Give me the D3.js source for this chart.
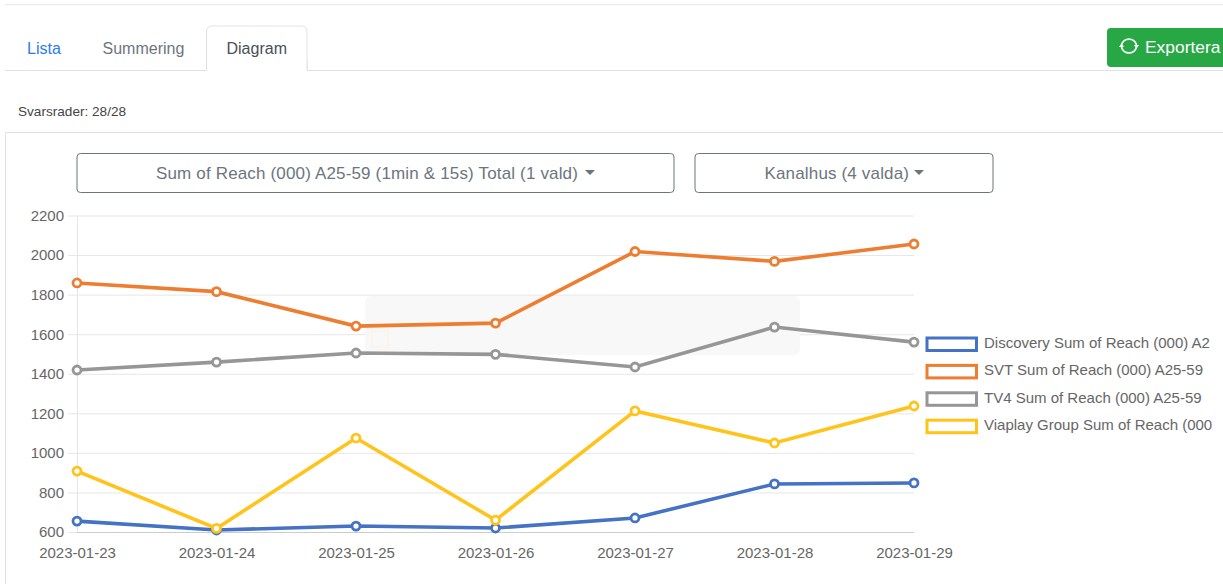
<!DOCTYPE html>
<html><head><meta charset="utf-8">
<script src="https://cdn.jsdelivr.net/npm/d3@7/dist/d3.min.js"></script>
<style>
html,body{margin:0;padding:0;background:#fff;overflow:hidden}
svg{display:block}
text{font-family:"Liberation Sans",Arial,sans-serif}
</style></head><body><svg id="c" width="1223" height="584"></svg>
<script>
const dates=["2023-01-23","2023-01-24","2023-01-25","2023-01-26","2023-01-27","2023-01-28","2023-01-29"];
const yTicks=[600,800,1000,1200,1400,1600,1800,2000,2200];
const discovery=[655,610,630,620,671,843,848];
const svt=[1859,1815,1641,1656,2018,1968,2056];
const tv4=[1419,1459,1505,1498,1434,1636,1560];
const viaplay=[908,618,1075,660,1212,1050,1237];
const seriesNames=["Discovery Sum of Reach (000) A2","SVT Sum of Reach (000) A25-59","TV4 Sum of Reach (000) A25-59","Viaplay Group Sum of Reach (000"];
const seriesValues=[discovery,svt,tv4,viaplay];
const lineColors=["#4472c4","#ed7d31","#969696","#ffc31a"];

const svg=d3.select("#c");
const ui="#dee2e6";
const rect=(x,y,w,h,o)=>{const r=svg.append("rect").attr("x",x).attr("y",y).attr("width",w).attr("height",h);
  Object.entries(o).forEach(([k,v])=>r.attr(k,v));return r;};
const txt=(x,y,s,o)=>{const t=svg.append("text").attr("x",x).attr("y",y).text(s);
  Object.entries(o).forEach(([k,v])=>t.attr(k,v));return t;};

// page chrome
rect(5,4,1218,1.2,{fill:"#e9ecef"});
svg.append("path").attr("d","M5 70.5H206.5V31a5 5 0 0 1 5-5H302a5 5 0 0 1 5 5V70.5H1223").attr("fill","none").attr("stroke",ui);
rect(207,60,100,12,{fill:"#fff"});
svg.append("path").attr("d","M206.5 60V70M307 60V70").attr("stroke",ui);
txt(27,53.5,"Lista",{"font-size":16,fill:"#2a7bf6"});
txt(102.5,53.5,"Summering",{"font-size":16,fill:"#6c757d"});
txt(226.5,53.5,"Diagram",{"font-size":16,fill:"#495057"});
txt(18,116,"Svarsrader: 28/28",{"font-size":13.6,fill:"#444"});
// export button
rect(1107,28,130,39,{fill:"#28a745",rx:4});
const ic=svg.append("g").attr("transform","translate(1129,46)").attr("fill","none").attr("stroke","#fff").attr("stroke-width",1.7);
ic.append("path").attr("d","M-7.5 -1A7.7 7.7 0 0 1 7.5 -1");
ic.append("path").attr("d","M7.5 1A7.7 7.7 0 0 1 -7.5 1");
ic.append("path").attr("d","M-10 1H-5L-7.5 -2.5Z M10 -1H5L7.5 2.5Z").attr("fill","#fff").attr("stroke","none");
txt(1145,53,"Exportera",{"font-size":17.4,fill:"#fff"});
// card
svg.append("path").attr("d","M1223 132.5H5.5V584").attr("fill","none").attr("stroke",ui);
// dropdowns
rect(77,153.5,597,39,{fill:"#fff",stroke:"#6c757d",rx:3.5});
rect(695,153.5,298,39,{fill:"#fff",stroke:"#6c757d",rx:3.5});
txt(156,179,"Sum of Reach (000) A25-59 (1min & 15s) Total (1 vald)",{"font-size":17,"letter-spacing":0.16,fill:"#6c757d"});
txt(764.5,179,"Kanalhus (4 valda)",{"font-size":17,"letter-spacing":0.16,fill:"#6c757d"});
svg.append("path").attr("d","M585 170h10l-5 5zM914 170h10l-5 5z").attr("fill","#6c757d");

// chart
const x=d3.scalePoint().domain(dates).range([77,914]);
const y=d3.scaleLinear().domain([600,2200]).range([532,215.5]);
const gy=svg.append("g").attr("transform","translate(77,0)")
  .call(d3.axisLeft(y).tickValues(yTicks).tickFormat(d3.format("d")).tickSize(9).tickPadding(4));
gy.select(".domain").remove();
gy.selectAll("line").attr("stroke","#e6e6e6");
gy.selectAll("text").attr("font-size",15).attr("fill","#666").attr("font-family",'"Liberation Sans",Arial,sans-serif');
svg.append("g").selectAll("line").data(yTicks).join("line")
  .attr("x1",77).attr("x2",914).attr("y1",d=>y(d)+.5).attr("y2",d=>y(d)+.5)
  .attr("stroke",d=>d===600?"#ccc":"#e6e6e6");
svg.append("line").attr("x1",77.5).attr("x2",77.5).attr("y1",215.5).attr("y2",532).attr("stroke","#e6e6e6");
const gx=svg.append("g").attr("transform","translate(0,532)")
  .call(d3.axisBottom(x).tickSize(0).tickPadding(15));
gx.select(".domain").remove();
gx.selectAll("text").attr("font-size",15).attr("fill","#666").attr("font-family",'"Liberation Sans",Arial,sans-serif');

// faded tooltip
rect(365,296,435,59,{fill:"#f8f8f8",rx:6});
rect(372,331,16,16,{fill:"none",stroke:"#fbf3ee","stroke-width":2});

const line=d3.line().x((d,i)=>x(dates[i])).y(d=>y(d));
seriesValues.forEach((vals,k)=>{
  const g=svg.append("g");
  g.append("path").attr("d",line(vals)).attr("fill","none").attr("stroke",lineColors[k]).attr("stroke-width",3.6);
  g.selectAll("circle").data(vals).join("circle")
    .attr("cx",(d,i)=>x(dates[i])).attr("cy",d=>y(d)).attr("r",4)
    .attr("fill","#fff").attr("stroke",lineColors[k]).attr("stroke-width",2.8);
});

// legend
const lg=svg.append("g");
seriesNames.forEach((n,i)=>{
  const yy=344+i*27.4;
  lg.append("rect").attr("x",927).attr("y",yy-6).attr("width",49.5).attr("height",12.5)
    .attr("fill","#fff").attr("stroke",lineColors[i]).attr("stroke-width",3);
  lg.append("text").attr("x",984).attr("y",yy+4).attr("font-size",15).attr("fill","#666").text(n);
});
</script></body></html>
